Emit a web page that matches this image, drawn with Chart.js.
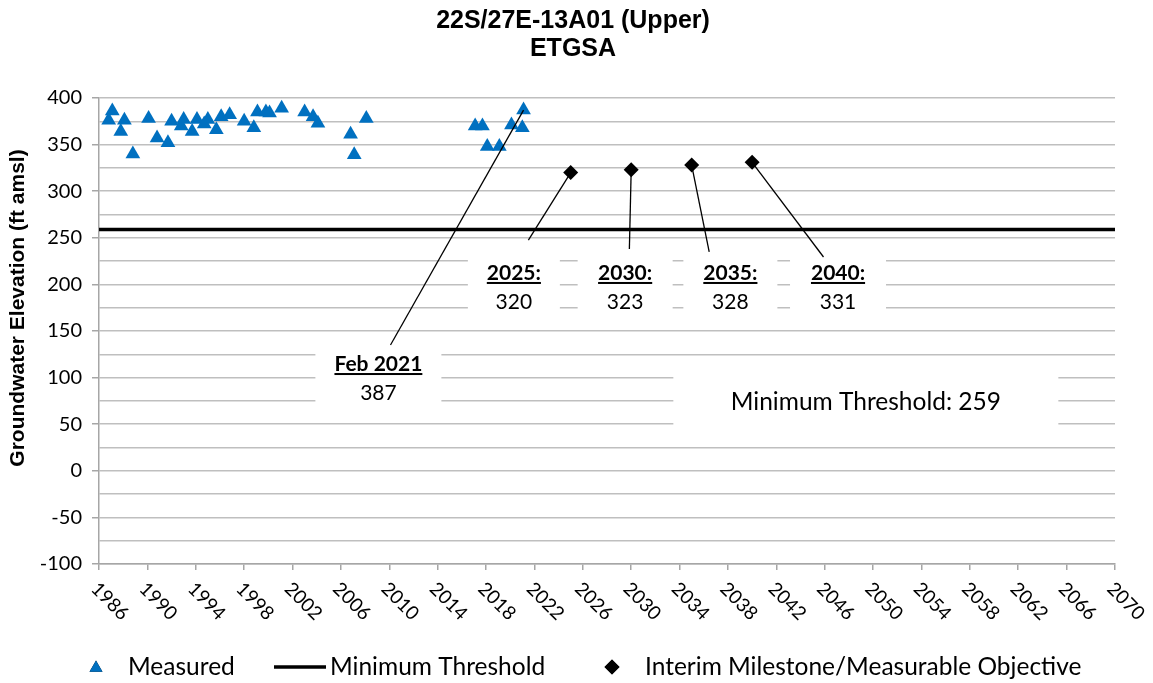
<!DOCTYPE html>
<html>
<head>
<meta charset="utf-8">
<script src="https://cdn.jsdelivr.net/npm/chart.js@4.4.1/dist/chart.umd.min.js"></script>
<style>
    html, body { margin: 0; padding: 0; background: #ffffff; }
    div.GraficoNivel { width: 1153px; height: 683px; position: relative; }
</style>
</head>
<body>
<div class="GraficoNivel"><canvas id="GraficoNivel"></canvas></div>
<script>
/*Measured groundwater elevations (decimal year, ft amsl)*/
var measuredDates = [1986.8, 1987.1, 1987.8, 1988.1, 1988.8, 1990.1, 1990.8, 1991.7, 1992.0, 1992.8,
    1993.0, 1993.7, 1994.1, 1994.7, 1995.0, 1995.7, 1996.1, 1996.8, 1998.0, 1998.8,
    1999.1, 1999.8, 2000.1, 2001.1, 2003.0, 2003.7, 2004.1, 2006.8, 2007.1, 2008.1,
    2017.1, 2017.7, 2018.1, 2019.1, 2020.1, 2021.0, 2021.1];
var measuredValues = [376, 386, 364, 376, 340, 378, 357, 352, 375, 370,
    377, 364, 377, 372, 377, 366, 380, 382, 375, 368,
    385, 385, 384, 389, 385, 380, 373, 361, 339, 378,
    370, 370, 348, 348, 371, 368, 387];

/*Interim milestones / measurable objective*/
var milestoneYears = [2025, 2030, 2035, 2040];
var milestoneValues = [320, 323, 328, 331];

/*Minimum threshold*/
var thresholdValue = 259;

/*Axes*/
var yearRange = [1986, 2070];
var yearStep = 4;
var elevationRange = [-100, 400];
var gridStep = 25;
var labelStep = 50;

var titleLines = ['22S/27E-13A01 (Upper)', 'ETGSA'];
var yAxisTitle = 'Groundwater Elevation (ft amsl)';
var legendNames = ['Measured', 'Minimum Threshold', 'Interim Milestone/Measurable Objective'];
var lastReadingTitle = 'Feb 2021';
var thresholdTitle = 'Minimum Threshold: ';

/*Label placement, in chart units*/
var lastReadingCallout = { label: [2009.1, 99], leader: [2010.1, 135], size: [126, 64] };
var milestoneCallouts = [
    { label: [2020.3, 196.7], leader: [2021.5, 247.6], size: [92, 60] },
    { label: [2029.5, 196.7], leader: [2029.85, 238], size: [95, 60] },
    { label: [2038.2, 196.7], leader: [2036.45, 234.8], size: [94, 60] },
    { label: [2047.1, 196.7], leader: [2045.9, 229.4], size: [96, 56] }
];
var thresholdCallout = { label: [2049.4, 73.8], size: [385, 58] };

var blue = '#0070c0';
var gridColor = '#bfbfbf';
var axisColor = '#a6a6a6';
var fontLabel = 'Lato, "Open Sans", sans-serif';
var fontArial = '"Liberation Sans", Arial, sans-serif';

/*Função montar pontos*/
function MontarPontos(xs, ys) {
    var pontos = [];
    var indice = 0;

    while (indice < xs.length) {
        pontos.push({ x: xs[indice], y: ys[indice] });
        indice++;
    }

    return pontos;
}

/*Anos dos ticks do eixo x*/
function MontarAnos() {
    var anos = [];
    var ano = yearRange[0];

    while (ano <= yearRange[1]) {
        anos.push({ value: ano });
        ano += yearStep;
    }

    return anos;
}

/*Caixa branca com título sublinhado e valor*/
function DesenharRotulo(ctx, cx, cy, size, heading, valueText) {
    ctx.save();
    ctx.fillStyle = '#ffffff';
    ctx.fillRect(cx - size[0] / 2, cy - size[1] / 2, size[0], size[1]);

    ctx.fillStyle = '#000000';
    ctx.textAlign = 'center';
    ctx.textBaseline = 'middle';
    ctx.font = 'bold 21px ' + fontLabel;
    ctx.fillText(heading, cx, cy - 14.5);
    var w = ctx.measureText(heading).width;
    ctx.fillRect(cx - w / 2, cy - 14.5 + 9, w, 2);

    ctx.font = '21px ' + fontLabel;
    ctx.fillText(valueText, cx, cy + 14.5);
    ctx.restore();
}

function DesenharLinha(ctx, x1, y1, x2, y2) {
    ctx.save();
    ctx.strokeStyle = '#000000';
    ctx.lineWidth = 1.3;
    ctx.beginPath();
    ctx.moveTo(x1, y1);
    ctx.lineTo(x2, y2);
    ctx.stroke();
    ctx.restore();
}

/*Rótulos, linhas de chamada, título e legenda*/
var rotulosPlugin = {
    id: 'rotulos',
    afterDatasetsDraw: function (chart) {
        var ctx = chart.ctx;
        var sx = chart.scales.x;
        var sy = chart.scales.y;

        /*Limite mínimo*/
        var t = thresholdCallout;
        var tx = sx.getPixelForValue(t.label[0]);
        var ty = sy.getPixelForValue(t.label[1]);
        ctx.save();
        ctx.fillStyle = '#ffffff';
        ctx.fillRect(tx - t.size[0] / 2, ty - t.size[1] / 2, t.size[0], t.size[1]);
        ctx.fillStyle = '#000000';
        ctx.font = '24.5px ' + fontLabel;
        ctx.textAlign = 'center';
        ctx.textBaseline = 'middle';
        ctx.fillText(thresholdTitle + thresholdValue, tx, ty);
        ctx.restore();

        /*Última medição*/
        var ultimo = measuredValues.length - 1;
        var c = lastReadingCallout;
        DesenharLinha(ctx,
            sx.getPixelForValue(c.leader[0]), sy.getPixelForValue(c.leader[1]),
            sx.getPixelForValue(measuredDates[ultimo]), sy.getPixelForValue(measuredValues[ultimo]));
        DesenharRotulo(ctx, sx.getPixelForValue(c.label[0]), sy.getPixelForValue(c.label[1]), c.size,
            lastReadingTitle, String(measuredValues[ultimo]));

        /*Marcos intermediários*/
        for (var i = 0; i < milestoneYears.length; i++) {
            var m = milestoneCallouts[i];
            DesenharLinha(ctx,
                sx.getPixelForValue(m.leader[0]), sy.getPixelForValue(m.leader[1]),
                sx.getPixelForValue(milestoneYears[i]), sy.getPixelForValue(milestoneValues[i]));
            DesenharRotulo(ctx, sx.getPixelForValue(m.label[0]), sy.getPixelForValue(m.label[1]), m.size,
                milestoneYears[i] + ':', String(milestoneValues[i]));
        }
    },
    afterDraw: function (chart) {
        var ctx = chart.ctx;
        var sx = chart.scales.x;
        var area = chart.chartArea;

        ctx.save();
        /*Título*/
        ctx.fillStyle = '#000000';
        ctx.textAlign = 'center';
        ctx.textBaseline = 'middle';
        ctx.font = 'bold 25px ' + fontArial;
        ctx.fillText(titleLines[0], 573, 21);
        ctx.fillText(titleLines[1], 573, 49);

        /*Título do eixo y*/
        ctx.save();
        ctx.translate(18, 308);
        ctx.rotate(-Math.PI / 2);
        ctx.font = 'bold 21px ' + fontArial;
        ctx.fillText(yAxisTitle, 0, 0);
        ctx.restore();

        /*Anos inclinados*/
        ctx.font = '19px ' + fontLabel;
        ctx.textAlign = 'left';
        ctx.textBaseline = 'top';
        sx.ticks.forEach(function (tick) {
            var px = sx.getPixelForValue(tick.value);
            ctx.save();
            ctx.translate(px + 2, area.bottom + 15);
            ctx.rotate(Math.PI / 4);
            ctx.fillText(String(tick.value), 0, 0);
            ctx.restore();
        });

        /*Legenda*/
        var ly = 667;
        ctx.font = '24.5px ' + fontLabel;
        ctx.textBaseline = 'middle';
        Chart.helpers.drawPoint(ctx, { pointStyle: 'triangle', radius: 7.5, borderWidth: 0 }, 96, ly + 1);
        ctx.fillStyle = blue;
        ctx.fill();
        ctx.fillStyle = '#000000';
        ctx.fillText(legendNames[0], 128, ly);

        ctx.strokeStyle = '#000000';
        ctx.lineWidth = 3.5;
        ctx.beginPath();
        ctx.moveTo(274, ly);
        ctx.lineTo(326, ly);
        ctx.stroke();
        ctx.fillText(legendNames[1], 330, ly);

        Chart.helpers.drawPoint(ctx, { pointStyle: 'rectRot', radius: 7.5, borderWidth: 0 }, 612, ly);
        ctx.fillStyle = '#000000';
        ctx.fill();
        ctx.fillText(legendNames[2], 645, ly);
        ctx.restore();
    }
};

var ctx = document.getElementById('GraficoNivel').getContext('2d');

var grafico = new Chart(ctx, {
    type: 'scatter',

    data: {
        datasets: [{
            label: legendNames[0],
            data: MontarPontos(measuredDates, measuredValues),
            pointStyle: 'triangle',
            pointRadius: 8.5,
            pointHoverRadius: 8.5,
            backgroundColor: blue,
            borderColor: blue,
            borderWidth: 0
        }, {
            label: legendNames[1],
            data: MontarPontos(yearRange, [thresholdValue, thresholdValue]),
            showLine: true,
            borderColor: '#000000',
            borderWidth: 3.5,
            pointRadius: 0
        }, {
            label: legendNames[2],
            data: MontarPontos(milestoneYears, milestoneValues),
            pointStyle: 'rectRot',
            pointRadius: 7.5,
            pointHoverRadius: 7.5,
            backgroundColor: '#000000',
            borderColor: '#000000',
            borderWidth: 0
        }]
    },
    options: {
        responsive: true,
        maintainAspectRatio: false,
        animation: false,
        devicePixelRatio: 1,
        layout: {
            padding: { top: 98, right: 38, left: 0, bottom: 0 }
        },
        scales: {
            x: {
                type: 'linear',
                min: yearRange[0],
                max: yearRange[1],
                afterBuildTicks: function (scale) {
                    scale.ticks = MontarAnos();
                },
                afterFit: function (scale) {
                    scale.height = 119;
                },
                ticks: { display: false },
                grid: {
                    drawOnChartArea: false,
                    drawTicks: true,
                    tickLength: 6,
                    color: axisColor,
                    lineWidth: 1.5
                },
                border: { display: true, color: axisColor, width: 1.5 }
            },
            y: {
                min: elevationRange[0],
                max: elevationRange[1],
                afterFit: function (scale) {
                    scale.width = 99;
                },
                ticks: {
                    stepSize: gridStep,
                    autoSkip: false,
                    padding: 10,
                    color: '#000000',
                    font: { family: fontLabel, size: 20 },
                    callback: function (value) {
                        return value % labelStep === 0 ? value : '';
                    }
                },
                grid: {
                    color: gridColor,
                    lineWidth: 1.5,
                    tickLength: 7,
                    tickColor: function (context) {
                        return context.tick && context.tick.value % labelStep === 0 ? axisColor : 'rgba(0,0,0,0)';
                    }
                },
                border: { display: true, color: axisColor, width: 1.5 }
            }
        },
        plugins: {
            legend: { display: false },
            title: { display: false },
            tooltip: { enabled: false }
        }
    },
    plugins: [rotulosPlugin]
});
</script>
</body>
</html>
